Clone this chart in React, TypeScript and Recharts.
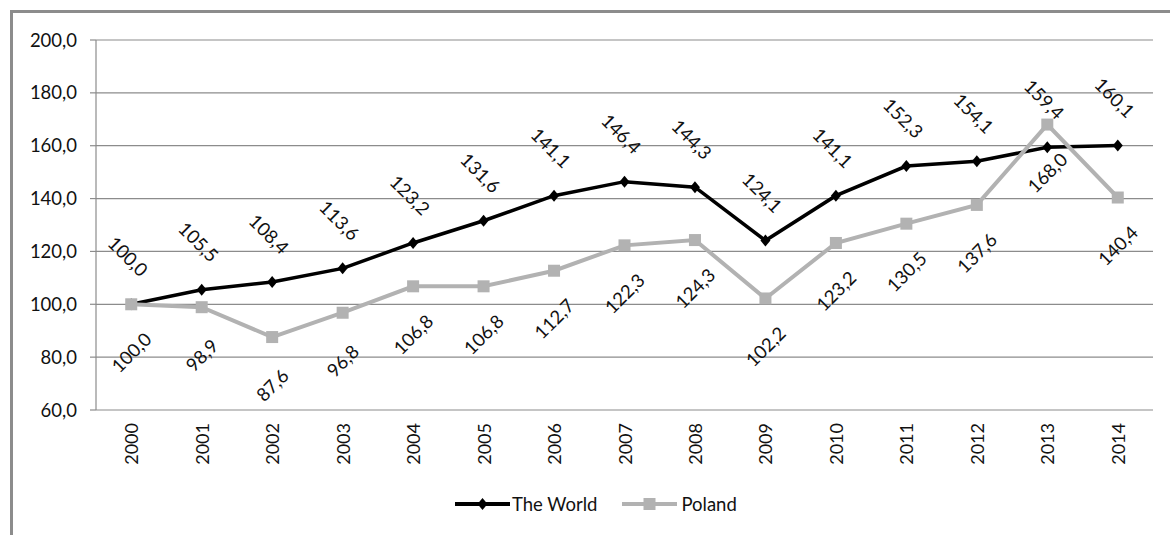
import { LineChart, Line, XAxis, YAxis, CartesianGrid, Legend, LabelList } from "recharts";

const years = ["2000", "2001", "2002", "2003", "2004", "2005", "2006", "2007", "2008", "2009", "2010", "2011", "2012", "2013", "2014"];
const world = [100.0, 105.5, 108.4, 113.6, 123.2, 131.6, 141.1, 146.4, 144.3, 124.1, 141.1, 152.3, 154.1, 159.4, 160.1];
const poland = [100.0, 98.9, 87.6, 96.8, 106.8, 106.8, 112.7, 122.3, 124.3, 102.2, 123.2, 130.5, 137.6, 168.0, 140.4];
const yTicks = [60, 80, 100, 120, 140, 160, 180, 200];

const data = years.map((year, i) => ({ idx: i, year, world: world[i], poland: poland[i] }));
const catTicks = years.map((_, i) => i);
const edgeTicks = [...years.map((_, i) => i - 0.5), years.length - 0.5];

const FONT = "Lato, 'Open Sans', sans-serif";
const TEXT = "#111";
const GRID = "#8c8c8c";
const WORLD_C = "#000";
const POLAND_C = "#b2b2b2";

const fmt = (v: number) => Number(v).toFixed(1).replace(".", ",");

const Diamond = (props: any) => {
  const { cx, cy } = props;
  if (cx == null || cy == null) return <g />;
  return <polygon points={`${cx},${cy - 6} ${cx + 5},${cy} ${cx},${cy + 6} ${cx - 5},${cy}`} fill={WORLD_C} />;
};

const Square = (props: any) => {
  const { cx, cy } = props;
  if (cx == null || cy == null) return <g />;
  return <rect x={cx - 6} y={cy - 6} width={12} height={12} fill={POLAND_C} />;
};

const rotLabel = (dx: number, dy: number, angle: number) => (p: any) => {
  const px = p.viewBox?.x ?? p.x;
  const py = p.viewBox?.y ?? p.y;
  if (px == null || py == null) return null;
  const cx = px + dx;
  const cy = py + dy;
  return (
    <text
      x={cx}
      y={cy}
      transform={`rotate(${angle} ${cx} ${cy})`}
      textAnchor="middle"
      dominantBaseline="central"
      fontFamily={FONT}
      fontSize={18.5}
      fill={TEXT}
    >
      {fmt(p.value)}
    </text>
  );
};

const YearTick = (props: any) => {
  const { x, y, payload } = props;
  return (
    <text
      x={x}
      y={y}
      transform={`rotate(-90 ${x} ${y})`}
      textAnchor="end"
      dominantBaseline="central"
      fontFamily={FONT}
      fontSize={18}
      fill={TEXT}
    >
      {years[payload.value]}
    </text>
  );
};

const LegendContent = () => (
  <div style={{ display: "flex", alignItems: "center", height: 45, fontFamily: FONT, fontSize: 18.5, color: TEXT }}>
    <svg width={55} height={14}>
      <line x1={0} y1={7} x2={55} y2={7} stroke={WORLD_C} strokeWidth={4} />
      <polygon points="27.5,1 32.5,7 27.5,13 22.5,7" fill={WORLD_C} />
    </svg>
    <span style={{ marginLeft: 2 }}>The World</span>
    <svg width={55} height={14} style={{ marginLeft: 25 }}>
      <line x1={0} y1={7} x2={55} y2={7} stroke={POLAND_C} strokeWidth={4} />
      <rect x={21.5} y={1} width={12} height={12} fill={POLAND_C} />
    </svg>
    <span style={{ marginLeft: 4 }}>Poland</span>
  </div>
);

export default function App() {
  return (
    <div
      style={{
        position: "fixed",
        left: 0,
        top: 0,
        width: 1170,
        height: 535,
        overflow: "hidden",
        background: "#fff",
        fontFamily: FONT,
      }}
    >
      <div
        style={{
          position: "absolute",
          left: 10,
          top: 10,
          width: 1300,
          height: 700,
          border: `3px solid ${GRID}`,
        }}
      />
      <div style={{ position: "absolute", left: 0, top: 0 }}>
        <LineChart width={1170} height={535} data={data} margin={{ top: 40, right: 17, bottom: 0, left: 0 }}>
          <CartesianGrid xAxisId="cats" vertical={false} stroke={GRID} strokeWidth={1.2} />
          <XAxis
            xAxisId="edges"
            type="number"
            domain={[-0.5, years.length - 0.5]}
            allowDataOverflow
            ticks={edgeTicks}
            interval={0}
            tickFormatter={() => ""}
            height={0}
            tickSize={6}
            stroke={GRID}
            strokeWidth={1.2}
          />
          <XAxis
            xAxisId="cats"
            dataKey="idx"
            type="number"
            domain={[-0.5, years.length - 0.5]}
            allowDataOverflow
            ticks={catTicks}
            interval={0}
            axisLine={false}
            tickLine={false}
            tickSize={0}
            tickMargin={13}
            height={80}
            tick={<YearTick />}
          />
          <YAxis
            width={96}
            domain={[60, 200]}
            ticks={yTicks}
            interval={0}
            tickFormatter={fmt}
            tickSize={6}
            tickMargin={13}
            stroke={GRID}
            strokeWidth={1.2}
            tick={{ fill: TEXT, fontSize: 18.5, fontFamily: FONT }}
          />
          <Legend
            verticalAlign="bottom"
            content={<LegendContent />}
            wrapperStyle={{ left: 455, top: 481, width: 320, height: 45 }}
          />
          <Line
            xAxisId="cats"
            name="The World"
            dataKey="world"
            stroke={WORLD_C}
            strokeWidth={3.5}
            dot={<Diamond />}
            activeDot={false}
            isAnimationActive={false}
          >
            <LabelList dataKey="world" content={rotLabel(-3, -48, 45)} />
          </Line>
          <Line
            xAxisId="cats"
            name="Poland"
            dataKey="poland"
            stroke={POLAND_C}
            strokeWidth={4}
            dot={<Square />}
            activeDot={false}
            isAnimationActive={false}
          >
            <LabelList dataKey="poland" content={rotLabel(0, 48, -45)} />
          </Line>
        </LineChart>
      </div>
    </div>
  );
}
